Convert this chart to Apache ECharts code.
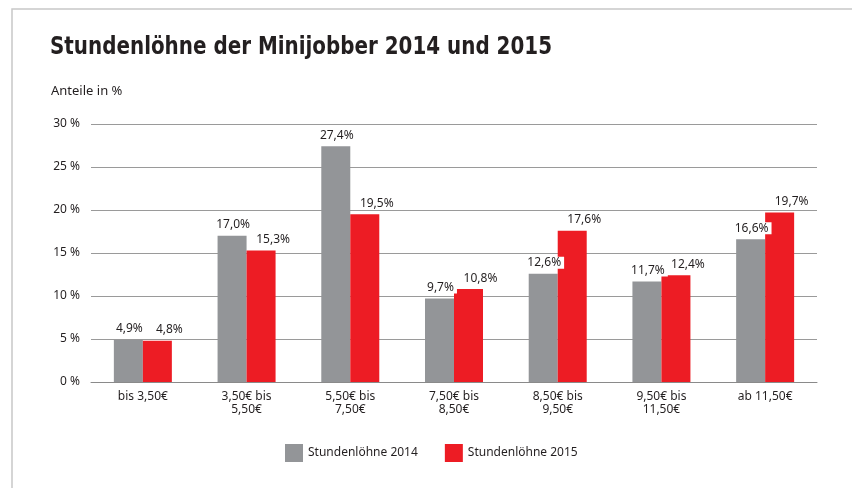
<!DOCTYPE html>
<html>
<head>
<meta charset="utf-8">
<script src="https://cdn.jsdelivr.net/npm/echarts@6/dist/echarts.min.js"></script>
<style>
  html, body { margin: 0; padding: 0; background: #fff; }
  #chart { width: 852px; height: 488px; }
</style>
</head>
<body>
<div id="chart"></div>
<script>
const categories = ['bis 3,50€', '3,50€ bis\n5,50€', '5,50€ bis\n7,50€', '7,50€ bis\n8,50€', '8,50€ bis\n9,50€', '9,50€ bis\n11,50€', 'ab 11,50€']
const values2014 = [4.9, 17.0, 27.4, 9.7, 12.6, 11.7, 16.6]
const values2015 = [4.8, 15.3, 19.5, 10.8, 17.6, 12.4, 19.7]
const seriesNames = ['Stundenlöhne 2014', 'Stundenlöhne 2015']
const yTicks = [0, 5, 10, 15, 20, 25, 30]

const font = '"Noto Sans", "Open Sans", sans-serif'
const textColor = '#231f20'

const chart = echarts.init(document.getElementById('chart'))

function fmt(v) {
  return v.toFixed(1).replace('.', ',') + '%'
}

function barLabel(offsetX) {
  return {
    show: true,
    position: 'top',
    distance: 5,
    offset: [offsetX, 0],
    fontFamily: font,
    fontSize: 12,
    color: textColor,
    backgroundColor: '#fff',
    padding: [0, 3],
    formatter: (p) => fmt(p.value),
  }
}

chart.setOption({
  animation: false,
  textStyle: { fontFamily: font },
  graphic: [
    {
      type: 'polyline',
      shape: { points: [[12, 488], [12, 9], [852, 9]] },
      style: { stroke: '#c8c8c8', lineWidth: 1.5, fill: null },
    },
    {
      type: 'text',
      x: 50,
      y: 35,
      scaleX: 0.885,
      style: {
        text: 'Stundenlöhne der Minijobber 2014 und 2015',
        font: 'bold 25px "DejaVu Sans Condensed", sans-serif',
        fill: textColor,
      },
    },
    {
      type: 'text',
      left: 51,
      top: 85,
      style: {
        text: 'Anteile in %',
        font: '13px ' + font,
        fill: textColor,
      },
    },
  ],
  grid: { left: 91, right: 35, top: 124, bottom: 106 },
  legend: {
    left: 285,
    top: 444,
    padding: 0,
    itemWidth: 18,
    itemHeight: 18,
    itemGap: 27,
    icon: 'rect',
    textStyle: { fontFamily: font, fontSize: 12, color: textColor },
    data: seriesNames,
  },
  xAxis: {
    type: 'category',
    data: categories,
    axisLine: { lineStyle: { color: '#8a8a8a', width: 1 } },
    axisTick: { show: false },
    axisLabel: { fontFamily: font, fontSize: 12, color: textColor, margin: 8, lineHeight: 13, interval: 0 },
  },
  yAxis: {
    type: 'value',
    min: yTicks[0],
    max: yTicks[yTicks.length - 1],
    interval: 5,
    axisLine: { show: false },
    axisTick: { show: false },
    axisLabel: { fontFamily: font, fontSize: 12, color: textColor, margin: 11, formatter: (v) => v + ' %' },
    splitLine: { lineStyle: { color: '#9a9a9a', width: 1 } },
  },
  series: [
    {
      name: seriesNames[0],
      type: 'bar',
      data: values2014,
      barWidth: 29,
      barGap: '0%',
      itemStyle: { color: '#939598' },
      label: barLabel(1),
    },
    {
      name: seriesNames[1],
      type: 'bar',
      data: values2015,
      barWidth: 29,
      itemStyle: { color: '#ed1c24' },
      label: barLabel(12),
    },
  ],
})

window.addEventListener('resize', () => chart.resize())
</script>
</body>
</html>
